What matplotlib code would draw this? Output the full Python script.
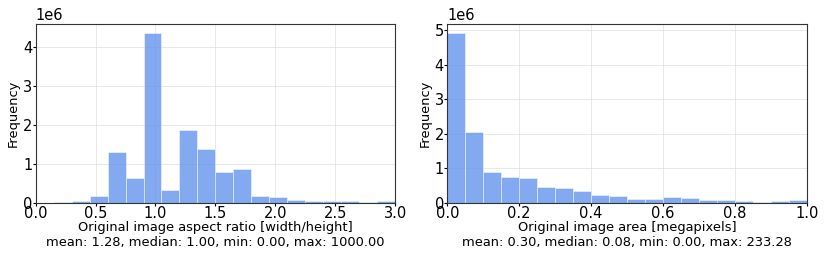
import matplotlib
matplotlib.use("Agg")
import matplotlib.pyplot as plt
import numpy as np

# Aspect ratio histogram (bin width 0.15, 0..3)
ar_edges = np.round(np.arange(0, 3.0001, 0.15), 2)
ar_counts = [0.0, 0.02, 0.04, 0.18, 1.32, 0.63, 4.38, 0.34, 1.87, 1.39,
             0.79, 0.88, 0.18, 0.155, 0.07, 0.05, 0.045, 0.045, 0.03, 0.04]
ar_counts = np.array(ar_counts) * 1e6

# Area histogram (bin width 0.05, 0..1)
area_edges = np.round(np.arange(0, 1.0001, 0.05), 2)
area_counts = [4.93, 2.05, 0.89, 0.755, 0.735, 0.464, 0.425, 0.34, 0.24, 0.21,
               0.125, 0.105, 0.165, 0.145, 0.077, 0.097, 0.058, 0.039, 0.058, 0.087]
area_counts = np.array(area_counts) * 1e6

xlabel1 = "Original image aspect ratio [width/height]\nmean: 1.28, median: 1.00, min: 0.00, max: 1000.00"
xlabel2 = "Original image area [megapixels]\nmean: 0.30, median: 0.08, min: 0.00, max: 233.28"

plt.rcParams['font.family'] = ['DejaVu Sans']
plt.rcParams['font.size'] = 11

fig = plt.figure(figsize=(8.3, 2.65), dpi=100)
ax1 = fig.add_axes([0.043, 0.234, 0.433, 0.675])
ax2 = fig.add_axes([0.539, 0.234, 0.433, 0.675])

for ax, edges, counts, xl, xlim, yt in [
        (ax1, ar_edges, ar_counts, xlabel1, (0, 3.0), [0, 1e6, 2e6, 3e6, 4e6]),
        (ax2, area_edges, area_counts, xlabel2, (0, 1.0), [0, 1e6, 2e6, 3e6, 4e6, 5e6])]:
    centers = (edges[:-1] + edges[1:]) / 2
    ax.hist(centers, bins=edges, weights=counts, color='cornflowerblue', alpha=0.8,
            edgecolor='white', linewidth=0.4)
    ax.set_xlim(*xlim)
    ax.set_yticks(yt)
    ax.set_xlabel(xl, fontsize=9.4, labelpad=0)
    ax.set_ylabel("Frequency", fontsize=9.4, labelpad=2)
    ax.grid(True, color='#dddddd', linewidth=0.6, alpha=0.8)
    ax.set_axisbelow(True)
    for s in ax.spines.values():
        s.set_color('#333333')
    ax.tick_params(labelsize=10.5, length=2, pad=0.5)
    ax.yaxis.get_offset_text().set_fontsize(10.5)

fig.savefig("out.png", dpi=100)
